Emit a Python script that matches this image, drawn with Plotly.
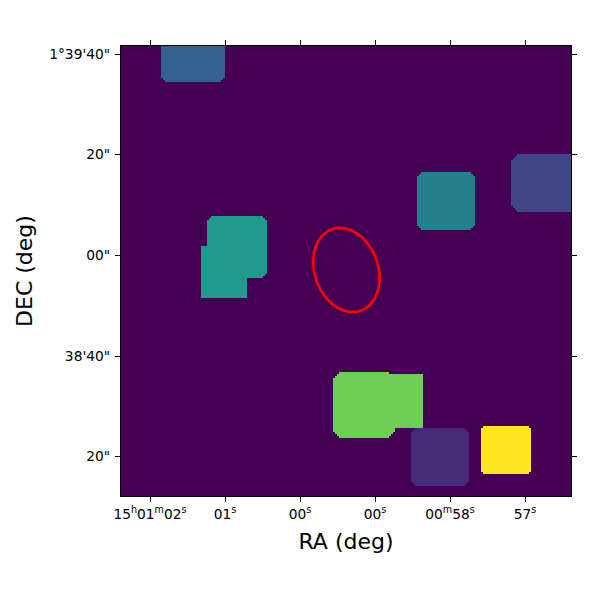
import numpy as np
import plotly.graph_objects as go

# segmentation map, 225 x 225 pixels, row 0 at the bottom
MAP_SIZE = 225

# one entry per source: label value, boxes (col0, col1, row0, row1, corner cut)
source_values = [0.30, 0.54, 0.43, 0.21, 0.78, 0.12, 1.00]
source_boxes = [
    [(20, 52, 207, 240, 2)],
    [(43, 73, 109, 140, 2), (40, 63, 99, 125, 0)],
    [(148, 177, 133, 162, 2)],
    [(195, 235, 142, 171, 3)],
    [(106, 137, 29, 62, 3), (130, 151, 34, 61, 0)],
    [(145, 174, 5, 34, 2)],
    [(180, 205, 11, 35, 1)],
]

# aperture, in map pixels
ell_x = 112.2
ell_y = 112.5
ell_major = 21.6
ell_minor = 15.9
ell_tilt = 19.5

ra_tick_pos = [14, 51.5, 89, 126.5, 164, 201.5]
ra_tick_text = ["15<sup>h</sup>01<sup>m</sup>02<sup>s</sup>", "01<sup>s</sup>", "00<sup>s</sup>",
                "00<sup>s</sup>", "00<sup>m</sup>58<sup>s</sup>", "57<sup>s</sup>"]
dec_tick_pos = [19.5, 69.5, 120, 170.5, 220.5]
dec_tick_text = ['20"', "38'40\"", '00"', '20"', "1°39'40\""]


def paint_box(z, box, value):
    c0, c1, r0, r1, cut = box
    for r in range(max(r0, 0), min(r1, MAP_SIZE)):
        # how far the corners cut into this row
        d = min(r - r0, r1 - 1 - r)
        trim = max(cut - d, 0)
        a = max(c0 + trim, 0)
        b = min(c1 - trim, MAP_SIZE)
        z[r, a:b] = value


seg = np.zeros((MAP_SIZE, MAP_SIZE))
for val, boxes in zip(source_values, source_boxes):
    for box in boxes:
        paint_box(seg, box, val)

t = np.linspace(0, 2 * np.pi, 181)
tilt = np.radians(ell_tilt)
ell_px = ell_x - ell_major * np.cos(t) * np.sin(tilt) + ell_minor * np.sin(t) * np.cos(tilt)
ell_py = ell_y + ell_major * np.cos(t) * np.cos(tilt) + ell_minor * np.sin(t) * np.sin(tilt)

fig = go.Figure()
fig.add_trace(go.Heatmap(z=seg, colorscale="Viridis", zmin=0, zmax=1, showscale=False, zsmooth=False,
                         hoverinfo="skip"))
fig.add_trace(go.Scatter(x=ell_px, y=ell_py, mode="lines", line=dict(color="#ff0000", width=2.7),
                         hoverinfo="skip", showlegend=False))

axis_style = dict(showgrid=False, zeroline=False, showline=True, linecolor="black", linewidth=1.2,
                  mirror="allticks", ticks="outside", ticklen=5, tickwidth=1.1, tickcolor="black",
                  tickfont=dict(family="DejaVu Sans", size=13.8, color="black"))

# the page adds an 8px margin round the figure
fig.update_layout(
    width=584, height=584, autosize=False,
    margin=dict(l=113, r=21, t=38, b=96),
    paper_bgcolor="white", plot_bgcolor="#440154",
    font=dict(family="DejaVu Sans", color="black"),
    showlegend=False,
    xaxis=dict(range=[-0.5, 224.5], tickmode="array", tickvals=ra_tick_pos, ticktext=ra_tick_text,
               title=dict(text="RA (deg)", font=dict(size=22), standoff=12), **axis_style),
    yaxis=dict(range=[-0.5, 224.5], tickmode="array", tickvals=dec_tick_pos, ticktext=dec_tick_text,
               ticklabelstandoff=2,
               title=dict(text="DEC (deg)", font=dict(size=22), standoff=10), **axis_style),
)

fig.write_html("out.html")
